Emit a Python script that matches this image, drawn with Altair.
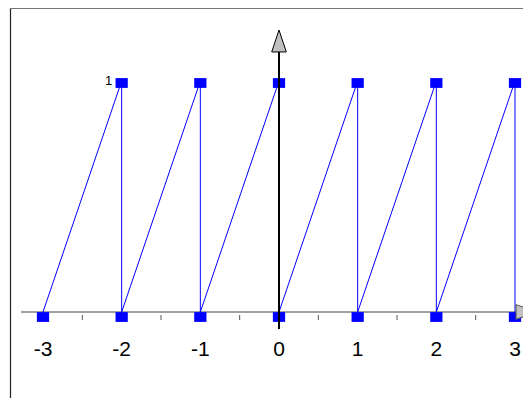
import altair as alt
import pandas as pd

# sawtooth path (in drawing order)
saw_x = [-3, -2, -2, -1, -1, 0, 0, 1, 1, 2, 2, 3, 3]
saw_y = [0, 1, 0, 1, 0, 1, 0, 1, 0, 1, 0, 1, 0]
# marker positions
top_x = [-2, -1, 0, 1, 2, 3]
bottom_x = [-3, -2, -1, 0, 1, 2, 3]
# axis ticks
tick_values = [-3, -2, -1, 0, 1, 2, 3]
tick_labels = ["-3", "-2", "-1", "0", "1", "2", "3"]
minor_values = [-2.5, -1.5, -0.5, 0.5, 1.5, 2.5]
y_label = "1"

BLUE = "#0000ff"
FONT = "Arial, Liberation Sans"

xs = alt.Scale(domain=[-3, 3], range=[35, 507], nice=False, zero=False)
ys = alt.Scale(domain=[0, 1], range=[304, 73], nice=False, zero=False)

saw = pd.DataFrame({"x": saw_x, "y": saw_y, "o": list(range(len(saw_x)))})
tops = pd.DataFrame({"x": top_x, "y": [1] * len(top_x)})
bots = pd.DataFrame({"x": bottom_x, "y": [0] * len(bottom_x)})
ticks = pd.DataFrame({"x": tick_values, "lab": tick_labels})
minors = pd.DataFrame({"x": minor_values})
origin = pd.DataFrame({"x": [0], "y": [0]})

X = lambda: alt.X("x:Q", scale=xs, axis=None)
Y = lambda: alt.Y("y:Q", scale=ys, axis=None)

frame_left = alt.Chart(origin).mark_rule(color="#222", strokeWidth=1.2).encode(
    x=alt.value(2.5), y=alt.value(0), y2=alt.value(400))
frame_top = alt.Chart(origin).mark_rule(color="#777", strokeWidth=1.2).encode(
    x=alt.value(2), x2=alt.value(530), y=alt.value(0.5))

x_axis = alt.Chart(origin).mark_rule(color="#808080", strokeWidth=1.6).encode(
    x=alt.value(13), x2=alt.value(512), y=Y())

major = alt.Chart(ticks).mark_rule(color="#555", strokeWidth=1).encode(
    x=X(), y=alt.value(304), y2=alt.value(314))
minor = alt.Chart(minors).mark_rule(color="#555", strokeWidth=1).encode(
    x=X(), y=alt.value(307), y2=alt.value(312))

labels = alt.Chart(ticks).mark_text(
    font=FONT, fontSize=21, color="#000", baseline="alphabetic", align="center"
).encode(x=X(), y=alt.value(348), text="lab:N")

ylab = alt.Chart(pd.DataFrame({"x": [-2], "y": [1], "t": [y_label]})).mark_text(
    font=FONT, fontSize=13, color="#000", align="center", baseline="middle", dx=-13
).encode(x=X(), y=Y(), text="t:N")

line = alt.Chart(saw).mark_line(color=BLUE, strokeWidth=1).encode(
    x=X(), y=Y(), order="o:Q")

rect_shape = "M-1,-0.8H1V0.8H-1Z"
top_m = alt.Chart(tops).mark_point(
    shape=rect_shape, size=150, filled=True, color=BLUE, opacity=1, yOffset=2
).encode(x=X(), y=Y())
bot_m = alt.Chart(bots).mark_point(
    shape=rect_shape, size=150, filled=True, color=BLUE, opacity=1, yOffset=5
).encode(x=X(), y=Y())

y_axis = alt.Chart(origin).mark_rule(color="#000", strokeWidth=2).encode(
    x=X(), y=alt.value(321), y2=alt.value(42))

up_arrow = alt.Chart(origin).mark_point(
    shape="M0,-1L0.667,1L-0.667,1Z", size=480, filled=True, fill="#c0c0c0",
    stroke="#000", strokeWidth=1, opacity=1
).encode(x=X(), y=alt.value(33))

right_arrow = alt.Chart(origin).mark_point(
    shape="M1,0L-1,0.667L-1,-0.667Z", size=480, filled=True, fill="#c0c0c0",
    stroke="#555", strokeWidth=1, opacity=1
).encode(x=alt.value(519), y=Y())

chart = alt.layer(
    frame_left, frame_top, x_axis, minor, major, labels, ylab, line,
    top_m, bot_m, y_axis, up_arrow, right_arrow
).properties(
    width=515, height=390, autosize=alt.AutoSizeParams(type="none"), padding=0
).configure_view(stroke=None)

chart.save("out.html", embed_options={"renderer": "svg", "actions": False})
